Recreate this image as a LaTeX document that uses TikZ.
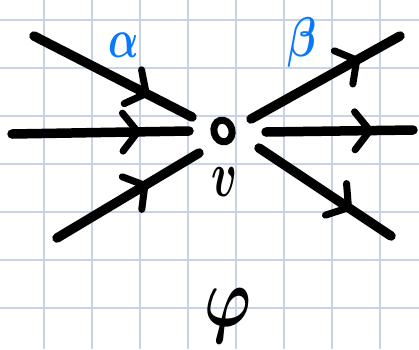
\documentclass[tikz,border=0pt]{standalone}
\usetikzlibrary{arrows.meta,decorations.markings,shapes.geometric}
\definecolor{gridc}{RGB}{200,212,230}
\definecolor{penblue}{RGB}{10,120,250}
\tikzset{
  stroke/.style={line width=9.5pt, line cap=round, black,
    postaction={decorate, decoration={markings,
      mark=at position #1 with {\arrow{Straight Barb[length=15pt,width=38pt,line width=7pt,round]}}}}},
  stroke/.default=0.7,
  greek/.style={text=penblue, inner sep=0pt},
}
\begin{document}
\begin{tikzpicture}[x=1pt,y=-1pt]
\useasboundingbox (0,0) rectangle (419,349);
\fill[white] (0,0) rectangle (419,349);
% grid
\foreach \gx in {44,92,...,420} \draw[gridc, line width=1.6pt] (\gx,0) -- (\gx,349);
\foreach \gy in {20,68,...,349} \draw[gridc, line width=1.6pt] (0,\gy) -- (419,\gy);
% center vertex
\node[draw, line width=7pt, ellipse, minimum width=18pt, minimum height=22pt, inner sep=0pt, rotate=15] (v) at (223,131) {};
\node[inner sep=0pt] (vl) at (224,182) {\scalebox{4.3}[6.5]{\boldmath$v$}};
% endpoints
\coordinate (a1) at (34,36);   \coordinate (b1) at (192,117);
\coordinate (a2) at (12,134);  \coordinate (b2) at (189,131);
\coordinate (a3) at (57,238);  \coordinate (b3) at (199,153);
\coordinate (a4) at (251,119); \coordinate (b4) at (400,36);
\coordinate (a5) at (266,132); \coordinate (b5) at (413,130);
\coordinate (a6) at (259,148); \coordinate (b6) at (391,236);
\draw[stroke=0.73] (a1) -- (b1);
\draw[stroke=0.73] (a2) -- (b2);
\draw[stroke=0.64] (a3) -- (b3);
\draw[stroke=0.73] (a4) -- (b4);
\draw[stroke=0.73] (a5) -- (b5);
\draw[stroke=0.70] (a6) -- (b6);
% labels
\node[greek] (al) at (124,45) {\scalebox{4}[5.5]{\boldmath$\alpha$}};
\node[greek] (be) at (302,42) {\scalebox{4.2}[5.6]{\boldmath$\beta$}};
\node[inner sep=0pt] (ph) at (228,316) {\scalebox{6.3}[8.5]{\boldmath$\varphi$}};
\end{tikzpicture}
\end{document}
